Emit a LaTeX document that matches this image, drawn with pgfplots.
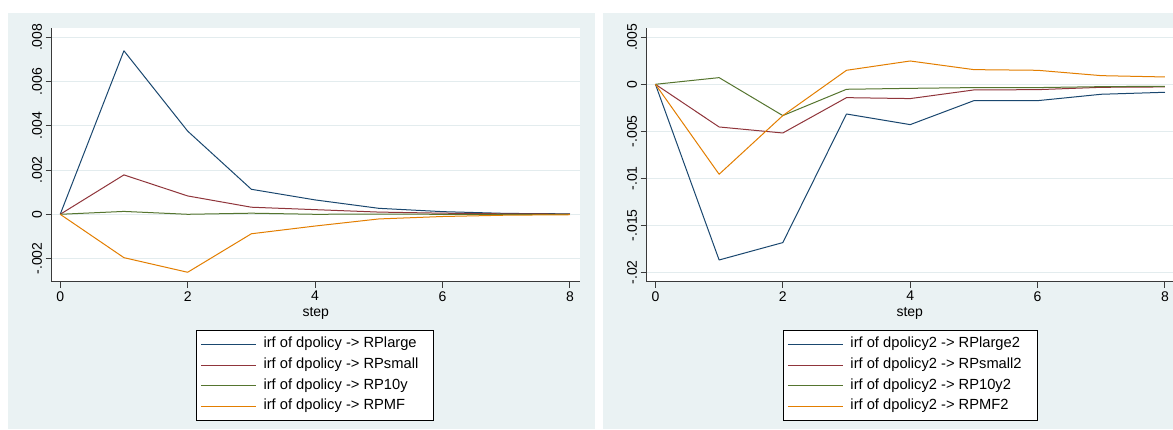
\documentclass[border=0pt]{standalone}
\usepackage{fontspec}
\setmainfont{Liberation Sans}
\usepackage{pgfplots}
\pgfplotsset{compat=1.18}
\definecolor{bgc}{HTML}{EAF2F3}
\definecolor{gridc}{HTML}{E3ECEE}
\definecolor{snavy}{RGB}{26,71,111}
\definecolor{smaroon}{RGB}{144,53,59}
\definecolor{sgreen}{RGB}{85,117,47}
\definecolor{sorange}{RGB}{227,126,0}
\definecolor{axc}{HTML}{3A3A3A}
\pgfplotsset{
  irf/.style={
    scale only axis, anchor=south west,
    axis lines*=left,
    axis line style={axc, line width=1pt},
    every tick/.style={axc, line width=1pt},
    major tick length=6pt,
    tick align=outside,
    ymajorgrids, major grid style={gridc, line width=1pt},
    xtick={0,2,4,6,8},
    scaled y ticks=false,
    /pgf/number format/assume math mode=true,
    tick label style={font=\fontsize{14}{16}\selectfont},
    yticklabel style={rotate=90, anchor=south},
    xlabel={step},
    xlabel style={font=\fontsize{14}{16}\selectfont, at={(axis description cs:0.5,-0.138)}, anchor=base},
    axis background/.style={fill=white},
    every axis plot/.append style={line width=1pt, line join=round},
    legend cell align=left,
    legend style={anchor=north, draw=black, line width=0.8pt, fill=white,
      inner xsep=4pt, inner ysep=5pt, row sep=2.67pt,
      /tikz/column sep=5pt,
      font=\fontsize{14.7}{16}\selectfont,
      nodes={inner xsep=2pt, inner ysep=2pt, text height=10.5pt, text depth=3.5pt}},
    legend image code/.code={\draw[#1] (0pt,0pt) -- (55pt,0pt);},
  }
}
\begin{document}
\begin{tikzpicture}[x=1pt,y=1pt]
\path[use as bounding box] (0,0) rectangle (1173,430);
\fill[bgc] (8,1) rectangle (595,417);
\fill[bgc] (603,1) rectangle (1173,417);
% left
\begin{axis}[irf,
  at={(51.6pt,148.3pt)}, width=528.4pt, height=253.7pt,
  xmin=-0.135, xmax=8.157, ymin=-0.003046, ymax=0.00842,
  ytick={-0.002,0,0.002,0.004,0.006,0.008},
  yticklabels={-.002,0,.002,.004,.006,.008},
  legend style={at={(axis description cs:0.4985,-0.1904)}},
]
\addplot[snavy] coordinates {(0,0) (1,0.00739) (2,0.00376) (3,0.00113) (4,0.00065) (5,0.00027) (6,0.00012) (7,0.00004) (8,0.00002)};
\addlegendentry{\makebox[164pt][l]{irf of dpolicy -> RPlarge}}
\addplot[smaroon] coordinates {(0,0) (1,0.00178) (2,0.00083) (3,0.00032) (4,0.00021) (5,0.0001) (6,0.00005) (7,0.00002) (8,0.00001)};
\addlegendentry{\makebox[164pt][l]{irf of dpolicy -> RPsmall}}
\addplot[sgreen] coordinates {(0,0) (1,0.00013) (2,0.0) (3,0.00005) (4,0.0) (5,0.00001) (6,0.0) (7,0.0) (8,0.0)};
\addlegendentry{\makebox[164pt][l]{irf of dpolicy -> RP10y}}
\addplot[sorange] coordinates {(0,0) (1,-0.00196) (2,-0.00262) (3,-0.00088) (4,-0.00053) (5,-0.00021) (6,-0.0001) (7,-0.00004) (8,-0.00002)};
\addlegendentry{\makebox[164pt][l]{irf of dpolicy -> RPMF}}
\end{axis}
% right
\begin{axis}[irf,
  at={(646.5pt,148.3pt)}, width=526.5pt, height=253.7pt,
  xmin=-0.14, xmax=8.126, ymin=-0.0210, ymax=0.00599,
  ytick={-0.02,-0.015,-0.01,-0.005,0,0.005},
  yticklabels={-.02,-.015,-.01,-.005,0,.005},
  legend style={at={(axis description cs:0.5014,-0.1904)}},
]
\addplot[snavy] coordinates {(0,0) (1,-0.01869) (2,-0.01684) (3,-0.00316) (4,-0.00429) (5,-0.00174) (6,-0.00174) (7,-0.00106) (8,-0.00085)};
\addlegendentry{\makebox[181pt][l]{irf of dpolicy2 -> RPlarge2}}
\addplot[smaroon] coordinates {(0,0) (1,-0.00454) (2,-0.00518) (3,-0.00142) (4,-0.00152) (5,-0.0006) (6,-0.00057) (7,-0.00032) (8,-0.00028)};
\addlegendentry{\makebox[181pt][l]{irf of dpolicy2 -> RPsmall2}}
\addplot[sgreen] coordinates {(0,0) (1,0.00071) (2,-0.00333) (3,-0.00053) (4,-0.00043) (5,-0.00035) (6,-0.00035) (7,-0.00025) (8,-0.00021)};
\addlegendentry{\makebox[181pt][l]{irf of dpolicy2 -> RP10y2}}
\addplot[sorange] coordinates {(0,0) (1,-0.00957) (2,-0.00333) (3,0.00149) (4,0.00248) (5,0.00156) (6,0.00149) (7,0.00092) (8,0.00078)};
\addlegendentry{\makebox[181pt][l]{irf of dpolicy2 -> RPMF2}}
\end{axis}
\end{tikzpicture}
\end{document}
